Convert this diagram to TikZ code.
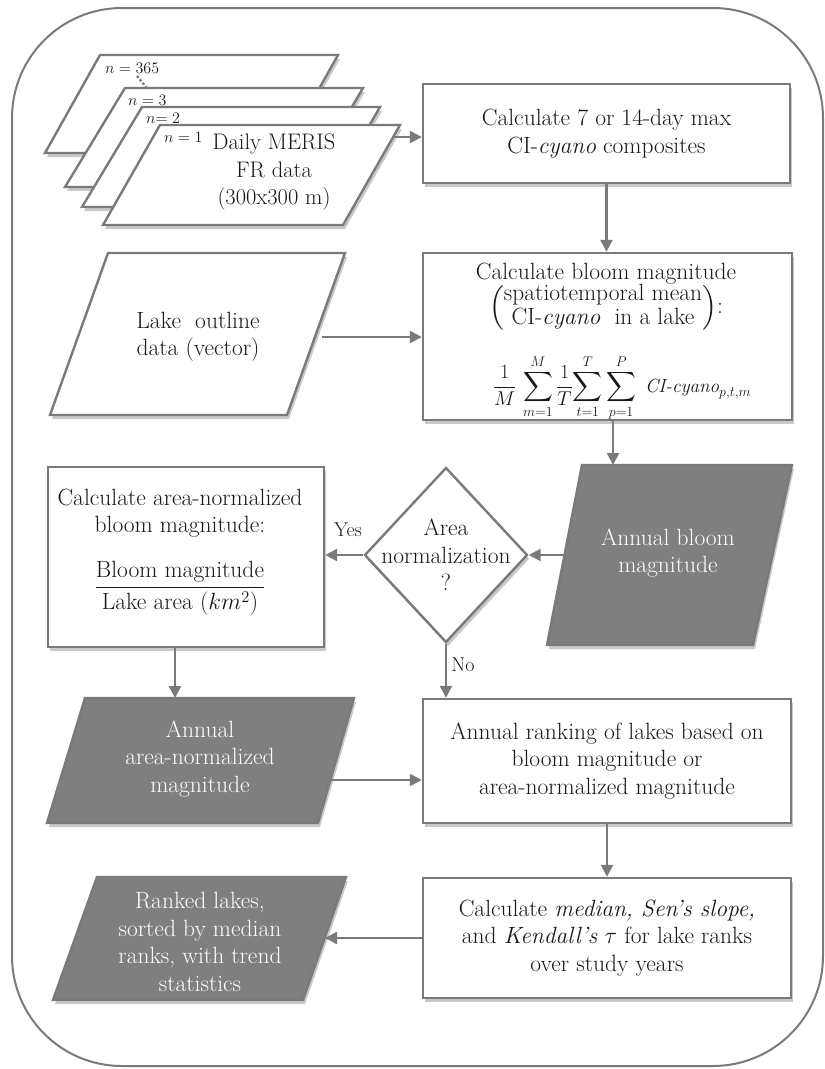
\RequirePackage{fix-cm}
\documentclass[tikz,border=0pt]{standalone}
\usepackage{amsmath}
\usetikzlibrary{arrows.meta,shapes.geometric,shadows}
\definecolor{lc}{HTML}{7A7A7A}
\definecolor{fillg}{HTML}{7F7F7F}
\tikzset{
  shad/.style={drop shadow={shadow xshift=2pt, shadow yshift=-4pt, opacity=0.3, fill=black!70}},
  base/.style={line width=2.4pt, draw=lc},
  txt/.style={align=center, font=\fontsize{23.5}{27.5}\selectfont, text=black!90, inner sep=0pt},
  wtxt/.style={align=center, font=\fontsize{23.5}{27.5}\selectfont, text=white, inner sep=0pt},
  box/.style={base, fill=white, rectangle, inner sep=0pt, shad, txt},
  wpara/.style={base, fill=white, shad, line join=miter},
  gpara/.style={base, fill=fillg, shad, line join=miter},
  small/.style={font=\fontsize{16}{18}\selectfont, text=black!90, inner sep=0pt},
  lbl/.style={font=\fontsize{20}{22}\selectfont, text=black!90, inner sep=0pt},
  arr/.style={draw=lc, line width=2.4pt, -{Triangle[length=12pt,width=12pt]}},
}
\begin{document}
\begin{tikzpicture}[x=1pt,y=-1pt]
\useasboundingbox (0,0) rectangle (825,1069);
% outer frame
\draw[lc, line width=2pt, rounded corners=110] (12,8) rectangle (823,1066);

% stack of daily data
\path[wpara] (100,55) -- (338,55) -- (283,153) -- (45,153) -- cycle;
\path[wpara] (125,88) -- (363,88) -- (305,187) -- (65,187) -- cycle;
\path[wpara] (142,107) -- (380,107) -- (322,207) -- (82,207) -- cycle;
\path[wpara] (160,125) -- (400,125) -- (343,225) -- (103,225) -- cycle;
\node[small, anchor=west] (n365) at (105,68) {$n = 365$};
\node[small, anchor=west] (n3) at (128,100) {$n = 3$};
\node[small, anchor=west] (n2) at (146,118) {$n{=}\;2$};
\node[small, anchor=west] (n1) at (164,137) {$n = 1$};
\draw[lc, line width=2.4pt, dotted] (137,76) -- (146,87);
\node[txt, font=\fontsize{22.5}{27.5}\selectfont] (p1t) at (274,172) {Daily MERIS\\FR data\\(300x300 m)};

% box 1
\node[box, minimum width=367, minimum height=99] (b1) at (606.5,133.5)
  {Calculate 7 or 14-day max\\CI-\textit{cyano} composites};

% lake outline
\path[wpara] (108,253) -- (345,253) -- (287,415) -- (50,415) -- cycle;
\node[txt] (lake) at (198,337) {Lake\ \ outline\\data (vector)};

% box 2
\node[box, minimum width=369, minimum height=167] (b2) at (607.5,336.5) {};
\node[txt] (b2a) at (606,274) {Calculate bloom magnitude};
\node[txt] (b2b) at (606,308) {\renewcommand\arraystretch{0.85}$\left(\begin{tabular}{@{}c@{}}spatiotemporal mean\\CI-\textit{cyano}\ \ in a lake\end{tabular}\right)$:};
\node[txt] (b2c) at (622,388) {\fontsize{20}{24}\selectfont
  $\displaystyle \frac{1}{M}\,\sum_{m=1}^{M}\frac{1}{T}\!\sum_{t=1}^{T}\sum_{p=1}^{P}\;\mbox{\fontsize{19}{22}\selectfont\itshape CI-cyano}_{p,t,m}$};

% annual bloom magnitude
\path[gpara] (582,465) -- (792,465) -- (753,645) -- (547,645) -- cycle;
\node[wtxt] (abm) at (668,553) {Annual bloom\\magnitude};

% decision
\node[base, fill=white, diamond, minimum width=163, minimum height=175, inner sep=0pt, shad] (dia) at (446,555) {};
\node[txt] (diat) at (446,555) {Area\\normalization\\?};

% box 3
\node[box, minimum width=276, minimum height=180] (b3) at (186,557) {};
\node[txt] (b3a) at (180,513) {Calculate area-normalized\\bloom magnitude:};
\node[txt] (b3b) at (180,588) {$\dfrac{\text{Bloom magnitude}}{\text{Lake area }(km^2)}$};

% annual area-normalized magnitude
\path[gpara] (85,698) -- (354,698) -- (318,823) -- (47,823) -- cycle;
\node[wtxt] (aan) at (200,759) {Annual\\area-normalized\\magnitude};

% box 4
\node[box, minimum width=368, minimum height=124] (b4) at (607,761)
  {Annual ranking of lakes based on\\bloom magnitude or\\area-normalized magnitude};

% box 5
\node[box, minimum width=368, minimum height=120] (b5) at (607,938)
  {Calculate \textit{median, Sen's slope,}\\and \textit{Kendall's} $\tau$ for lake ranks\\over study years};

% ranked lakes
\path[gpara] (97,877) -- (346,877) -- (303,1000) -- (53,1000) -- cycle;
\node[wtxt] (rl) at (200,942) {Ranked lakes,\\sorted by median\\ranks, with trend\\statistics};

% connectors
\coordinate (p1r) at (392,137);
\draw[arr] (p1r) -- (p1r -| b1.west);
\draw[arr] (b1.south) -- (b1.south |- b2.north);
\coordinate (lakeR) at (322,337);
\draw[arr] (lakeR) -- (lakeR -| b2.west);
\coordinate (abmT) at (613,465);
\draw[arr] (abmT |- b2.south) -- (abmT);
\coordinate (abmL) at (565,555);
\draw[arr] (abmL) -- (dia.east);
\draw[arr] (dia.west) -- (dia.west -| b3.east);
\node[lbl] (yes) at (348,530) {Yes};
\coordinate (aanT) at (175,698);
\draw[arr] (aanT |- b3.south) -- (aanT);
\draw[arr] (dia.south) -- (dia.south |- b4.north);
\node[lbl] (no) at (463,665) {No};
\coordinate (aanR) at (330,780);
\draw[arr] (aanR) -- (aanR -| b4.west);
\draw[arr] (b4.south) -- (b4.south |- b5.north);
\coordinate (rlR) at (325,938);
\draw[arr] (rlR -| b5.west) -- (rlR);
\end{tikzpicture}
\end{document}
